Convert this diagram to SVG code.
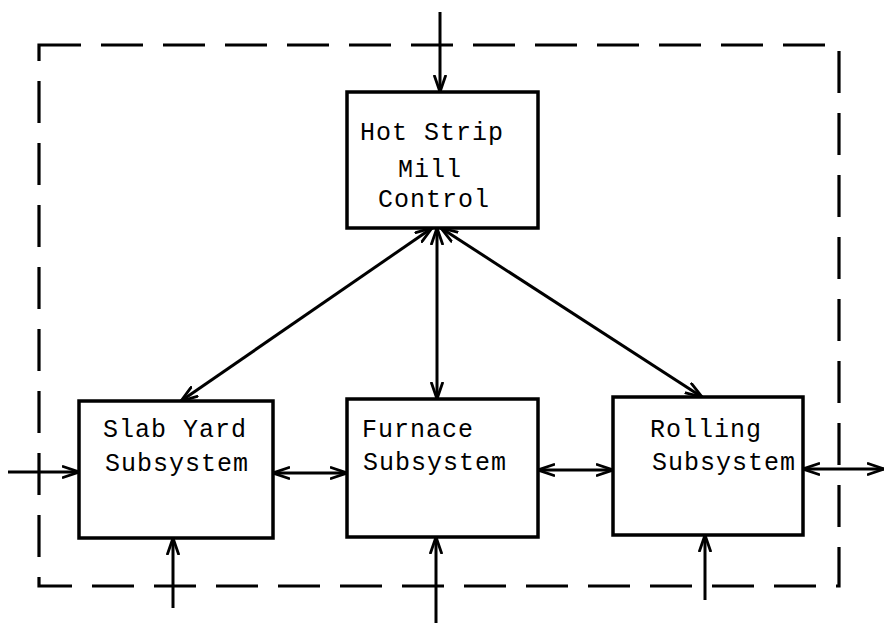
<svg xmlns="http://www.w3.org/2000/svg" width="884" height="623" viewBox="0 0 884 623">
<defs>
<marker id="ah" viewBox="0 0 18 14" refX="17" refY="7" markerWidth="18" markerHeight="14" markerUnits="userSpaceOnUse" orient="auto-start-reverse">
<path d="M1,1.5 L17,7 L1,12.5" fill="none" stroke="#000" stroke-width="2.8" stroke-linecap="round"/>
</marker>
<style>
.box{fill:#fff;stroke:#000;stroke-width:3.5}
.lbl{font-family:"Liberation Mono","Courier New",monospace;font-size:25px;letter-spacing:1px;fill:#000}
.c{fill:none;stroke:#000;stroke-width:3}
.bi{marker-start:url(#ah);marker-end:url(#ah)}
.one{marker-end:url(#ah)}
.border{fill:none;stroke:#000;stroke-width:3.2;stroke-dasharray:42 20}
</style>
</defs>
<rect width="884" height="623" fill="#fff"/>
<rect class="border" x="39" y="45" width="800" height="541"/>
<g id="connectors">
<line class="c one" x1="440" y1="12" x2="440" y2="92"/>
<line class="c bi" x1="432" y1="228" x2="181" y2="401"/>
<line class="c bi" x1="437" y1="228" x2="437" y2="399"/>
<line class="c bi" x1="441" y1="228" x2="702" y2="397"/>
<line class="c one" x1="8" y1="472" x2="79" y2="472"/>
<line class="c bi" x1="273" y1="473" x2="347" y2="473"/>
<line class="c bi" x1="538" y1="470" x2="613" y2="470"/>
<line class="c bi" x1="803" y1="469" x2="884" y2="469"/>
<line class="c one" x1="173" y1="608" x2="173" y2="538"/>
<line class="c one" x1="436" y1="623" x2="436" y2="537"/>
<line class="c one" x1="705" y1="600" x2="705" y2="535"/>
</g>
<g id="hot-strip-mill-control">
<rect class="box" x="347" y="92" width="191" height="136"/>
<text class="lbl" x="360" y="140">Hot Strip</text>
<text class="lbl" x="398" y="177">Mill</text>
<text class="lbl" x="378" y="207">Control</text>
</g>
<g id="slab-yard">
<rect class="box" x="79" y="401" width="194" height="137"/>
<text class="lbl" x="103" y="437">Slab Yard</text>
<text class="lbl" x="105" y="471">Subsystem</text>
</g>
<g id="furnace">
<rect class="box" x="347" y="399" width="191" height="138"/>
<text class="lbl" x="362" y="437">Furnace</text>
<text class="lbl" x="363" y="470">Subsystem</text>
</g>
<g id="rolling">
<rect class="box" x="613" y="397" width="190" height="138"/>
<text class="lbl" x="650" y="437">Rolling</text>
<text class="lbl" x="652" y="470">Subsystem</text>
</g>
</svg>
